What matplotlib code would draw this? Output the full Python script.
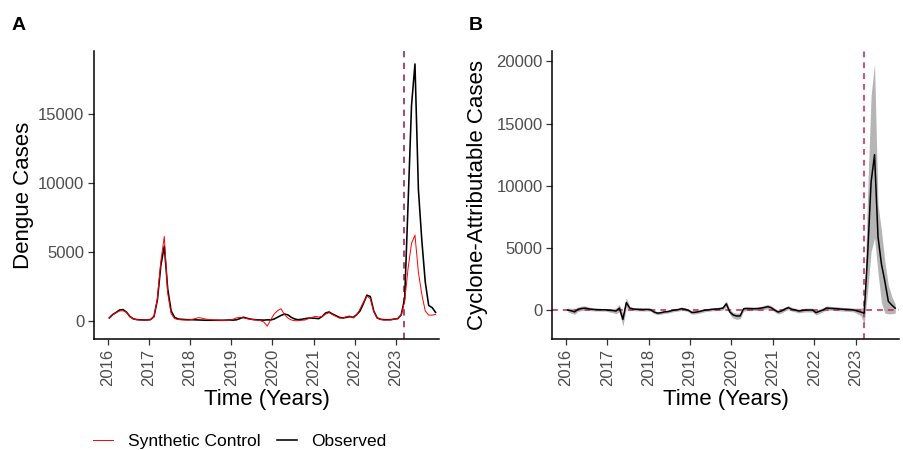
import numpy as np
import matplotlib
matplotlib.use('Agg')
import matplotlib.pyplot as plt
from matplotlib.lines import Line2D

plt.rcParams['font.family'] = ['Liberation Sans', 'DejaVu Sans']

# monthly values, Jan 2016 - Dec 2023
years = list(range(2016, 2024))
year_ticks = [2016, 2017, 2018, 2019, 2020, 2021, 2022, 2023]
cyclone_date = 2023.2

observed = [
    200, 450, 600, 780, 800, 620, 300, 130, 80, 60, 50, 50,
    80, 300, 1500, 4000, 5400, 2300, 700, 250, 120, 100, 80, 70,
    70, 60, 50, 40, 30, 30, 30, 30, 30, 30, 40, 50,
    40, 60, 150, 250, 180, 120, 80, 60, 50, 40, 60, 50,
    120, 250, 380, 480, 420, 240, 120, 70, 100, 145, 190, 190,
    170, 145, 310, 560, 630, 480, 360, 240, 190, 240, 290, 240,
    430, 700, 1250, 1850, 1750, 700, 200, 100, 70, 70, 70, 120,
    145, 435, 1600, 8500, 15600, 18600, 9500, 5800, 2800, 1100, 950, 600,
]

synthetic = [
    180, 420, 580, 700, 720, 600, 280, 120, 70, 50, 50, 50,
    70, 280, 1600, 4300, 6100, 2000, 500, 150, 80, 60, 50, 50,
    80, 150, 220, 180, 120, 80, 60, 40, 30, 20, 20, 40,
    100, 200, 240, 200, 150, 100, 70, 40, 0, -100, -400, 70,
    480, 725, 870, 435, 190, 50, 0, 0, 25, 50, 145, 240,
    310, 265, 310, 480, 580, 435, 310, 190, 190, 290, 340, 190,
    400, 850, 1350, 1770, 1600, 650, 180, 80, 50, 50, 60, 120,
    150, 400, 1400, 3800, 5600, 6200, 3500, 1900, 700, 400, 400, 450,
]

# panel B: cyclone-attributable cases with uncertainty band
effect = [
    0, -60, -150, 60, 120, 150, 100, 60, 40, 30, 20, 20,
    -20, -40, -80, 150, -750, 600, 150, 80, 60, 50, 40, 50,
    30, -150, -250, -220, -150, -130, -60, 0, 30, 110, 60, -20,
    -200, -180, -130, -60, 0, 20, 60, 80, 100, 150, 500, -150,
    -400, -480, -480, 100, 120, 110, 100, 110, 150, 200, 270, 190,
    0, -160, -80, 80, 190, 60, 0, -80, -40, 0, 0, 0,
    -210, -100, 0, 160, 140, 120, 110, 80, 60, 50, 30, 0,
    -80, -160, -250, 4500, 10300, 12500, 5900, 3700, 2300, 700, 400, 150,
]

band_low = [
    -150, -250, -350, -100, -50, 0, -30, -60, -80, -80, -90, -90,
    -150, -200, -300, -150, -1300, 200, 0, -40, -60, -70, -80, -70,
    -90, -280, -380, -340, -270, -250, -180, -120, -90, -20, -60, -150,
    -330, -320, -260, -190, -120, -100, -60, -40, -30, 0, 250, -350,
    -650, -750, -700, -100, -30, -40, -40, -30, 0, 50, 100, 40,
    -150, -320, -230, -80, 40, -90, -150, -230, -190, -150, -160, -150,
    -400, -270, -150, 0, -20, -30, -40, -70, -90, -100, -120, -150,
    -300, -450, -1100, 1500, 4700, 5800, 3000, 600, -250, -300, -300, -250,
]

band_high = [
    150, 150, 100, 250, 320, 330, 250, 180, 150, 130, 120, 120,
    100, 120, 150, 450, -300, 1000, 300, 200, 180, 170, 160, 170,
    150, -30, -130, -100, -30, -10, 60, 120, 150, 240, 180, 100,
    -70, -50, 0, 80, 120, 150, 190, 200, 240, 300, 750, 50,
    -200, -250, -250, 250, 270, 260, 250, 260, 300, 370, 450, 350,
    150, 0, 80, 240, 350, 210, 150, 80, 120, 150, 160, 150,
    -30, 80, 160, 330, 300, 280, 260, 230, 210, 200, 180, 150,
    150, 150, 250, 9500, 17300, 19800, 8500, 6400, 3900, 2000, 1100, 480,
]

# mid-month decimal dates
month_idx = np.arange(len(observed))
t = years[0] + (month_idx + 0.5) / 12.0

fig = plt.figure(figsize=(9.04, 4.5), dpi=100)
axA = fig.add_axes([0.104, 0.246, 0.382, 0.641])
axB = fig.add_axes([0.611, 0.246, 0.3835, 0.641])

tick_grey = '#4D4D4D'


def style_axis(ax):
    for side in ['top', 'right']:
        ax.spines[side].set_visible(False)
    for side in ['left', 'bottom']:
        ax.spines[side].set_linewidth(1.1)
    ax.set_xlim(2015.67, 2024.05)
    ax.set_xticks(year_ticks)
    ax.set_xticklabels([str(y) for y in year_ticks], rotation=90,
                       fontsize=12, color=tick_grey)
    ax.tick_params(axis='both', length=4, width=0.9, color='#333333',
                   labelsize=12, labelcolor=tick_grey, pad=3)
    ax.set_xlabel('Time (Years)', fontsize=16, labelpad=2)


# Panel A
axA.axvline(cyclone_date, color='#A3366B', lw=1.3, ls=(0, (3.5, 3)), zorder=1)
axA.plot(t, observed, color='black', lw=1.15, zorder=2)
axA.plot(t, synthetic, color='red', lw=0.7, zorder=3)
axA.set_yticks([0, 5000, 10000, 15000])
axA.set_ylabel('Dengue Cases', fontsize=16, labelpad=3)
style_axis(axA)

# Panel B
axB.fill_between(t, band_low, band_high, color='#B5B5B5', lw=0, zorder=1)
axB.axhline(0, color='#C8325E', lw=1.2, ls=(0, (3.5, 3)), zorder=2)
axB.axvline(cyclone_date, color='#C8325E', lw=1.2, ls=(0, (3.5, 3)), zorder=2)
axB.plot(t, effect, color='black', lw=1.1, zorder=3)
axB.set_yticks([0, 5000, 10000, 15000, 20000])
axB.set_ylabel('Cyclone-Attributable Cases', fontsize=16, labelpad=6)
style_axis(axB)

fig.text(0.013, 0.944, 'A', fontsize=14, fontweight='bold', va='center')
fig.text(0.518, 0.944, 'B', fontsize=14, fontweight='bold', va='center')

handles = [Line2D([], [], color='red', lw=0.7),
           Line2D([], [], color='black', lw=1.15)]
fig.legend(handles, ['Synthetic Control', 'Observed'], ncol=2,
           loc='center left', bbox_to_anchor=(93 / 904, 0.019),
           frameon=False, fontsize=12.5, borderpad=0, borderaxespad=0,
           handlelength=1.15, handletextpad=0.85, columnspacing=0.95)

fig.savefig('out.png', dpi=100)
